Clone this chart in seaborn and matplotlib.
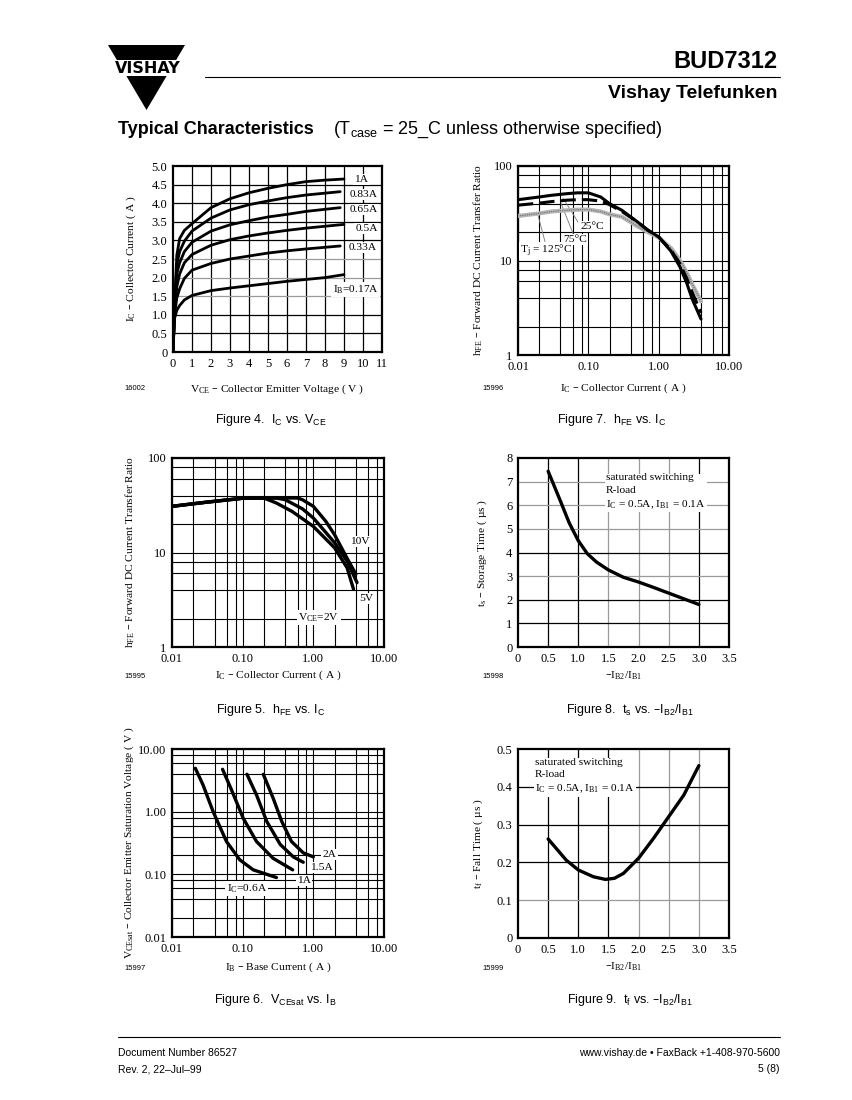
import matplotlib
matplotlib.use("Agg")
import matplotlib.pyplot as plt
import pandas as pd
import seaborn as sns
from matplotlib.ticker import FixedLocator, LogLocator, NullFormatter
from matplotlib.patches import Polygon, Rectangle
from matplotlib.lines import Line2D

# ---- Figure 4: IC vs VCE, one curve per base current
ib_labels = ["1A", "0.83A", "0.65A", "0.5A", "0.33A", "IB=0.17A"]
vce_1a = [0, 0.08, 0.2, 0.35, 0.6, 1, 2, 3, 4, 5, 6, 7, 8, 9]
ic_1a = [0, 1.2, 2.6, 3.05, 3.27, 3.45, 3.88, 4.12, 4.28, 4.4, 4.5, 4.58, 4.62, 4.65]
vce_083 = [0, 0.08, 0.2, 0.35, 0.6, 1, 2, 3, 4, 5, 6, 7, 8.8]
ic_083 = [0, 1.2, 2.35, 2.7, 2.98, 3.25, 3.6, 3.82, 3.96, 4.06, 4.15, 4.22, 4.31]
vce_065 = [0, 0.08, 0.2, 0.35, 0.6, 1, 2, 3, 4, 5, 6, 7, 8.8]
ic_065 = [0, 1.15, 2.1, 2.4, 2.7, 2.95, 3.25, 3.42, 3.53, 3.63, 3.7, 3.78, 3.88]
vce_05 = [0, 0.08, 0.2, 0.35, 0.6, 1, 2, 3, 4, 5, 6, 7, 9]
ic_05 = [0, 1.1, 1.75, 2.1, 2.4, 2.62, 2.87, 3.02, 3.12, 3.2, 3.27, 3.33, 3.43]
vce_033 = [0, 0.08, 0.2, 0.35, 0.6, 1, 2, 3, 4, 5, 6, 7, 8.8]
ic_033 = [0, 1.0, 1.45, 1.7, 1.98, 2.2, 2.38, 2.5, 2.58, 2.66, 2.72, 2.77, 2.85]
vce_017 = [0, 0.08, 0.2, 0.35, 0.6, 1, 2, 3, 4, 5, 6, 7, 8, 9]
ic_017 = [0, 0.9, 1.12, 1.25, 1.4, 1.52, 1.65, 1.72, 1.78, 1.84, 1.9, 1.95, 2.0, 2.08]

# ---- Figure 7: hFE vs IC at three junction temperatures
ic7 = [0.01, 0.02, 0.03, 0.05, 0.07, 0.1, 0.15, 0.2, 0.3, 0.5, 0.7, 1.0, 1.5, 2.0, 2.5, 3.0, 4.0]
hfe_25 = [44, 47, 49, 51, 52, 52, 47, 40, 34, 25.6, 21, 17.8, 12.5, 8.6, 5.8, 3.9, 2.4]
hfe_75 = [38.5, 40.5, 42, 43.5, 44, 44, 42.5, 39, 33, 25.6, 21, 17.8, 12.8, 9.3, 6.5, 4.6, 2.8]
hfe_125 = [29.6, 31.5, 33, 34, 34.5, 34.6, 33, 30.8, 29, 23, 20, 17.5, 13.5, 10.1, 7.5, 5.6, 3.7]

# ---- Figure 5: hFE vs IC at three VCE
ic5_2v = [0.01, 0.03, 0.1, 0.2, 0.3, 0.5, 1.0, 2.0, 3.0, 3.7]
hfe5_2v = [30.8, 34, 37.5, 37.7, 33.4, 27.2, 18.9, 11.2, 6.9, 4.1]
ic5_5v = [0.01, 0.03, 0.1, 0.2, 0.3, 0.4, 0.7, 1.0, 2.0, 3.0, 4.15]
hfe5_5v = [30.8, 34, 37.5, 37.7, 37.7, 36.2, 29, 23.2, 12.7, 8.1, 4.8]
ic5_10v = [0.01, 0.03, 0.1, 0.2, 0.3, 0.6, 0.7, 1.0, 1.5, 2.0, 3.0, 4.0]
hfe5_10v = [30.8, 34, 37.5, 37.7, 37.8, 37.7, 36.2, 30.8, 21.4, 15.4, 8.7, 5.9]

# ---- Figure 6: VCEsat vs IB at four collector currents
ib6_06 = [0.0214, 0.0275, 0.0382, 0.059, 0.0912, 0.141, 0.30]
vce6_06 = [4.92, 2.67, 1.0, 0.334, 0.17, 0.118, 0.089]
ib6_1 = [0.0519, 0.0696, 0.1018, 0.157, 0.27, 0.51]
vce6_1 = [4.74, 2.22, 0.786, 0.334, 0.18, 0.118]
ib6_15 = [0.115, 0.157, 0.219, 0.34, 0.52, 0.72]
vce6_15 = [3.95, 1.85, 0.70, 0.30, 0.19, 0.156]
ib6_2 = [0.196, 0.27, 0.357, 0.49, 0.72, 1.0]
vce6_2 = [3.95, 1.64, 0.70, 0.335, 0.22, 0.19]

# ---- Figure 8: storage time, Figure 9: fall time
ratio8 = [0.5, 0.7, 0.85, 1.0, 1.15, 1.3, 1.5, 1.75, 2.0, 2.25, 2.5, 2.75, 3.0]
ts8 = [7.44, 6.2, 5.25, 4.5, 3.95, 3.6, 3.26, 2.95, 2.75, 2.52, 2.28, 2.04, 1.8]
ratio9 = [0.5, 0.8, 1.0, 1.25, 1.45, 1.6, 1.75, 2.0, 2.25, 2.5, 2.75, 3.0]
tf9 = [0.262, 0.206, 0.18, 0.162, 0.155, 0.158, 0.171, 0.211, 0.264, 0.321, 0.378, 0.456]

W, H = 853, 1100
SERIF = ["Liberation Serif", "DejaVu Serif"]
SANS = ["Liberation Sans", "DejaVu Sans"]

sns.set_theme(style="white")
plt.rcParams["font.family"] = SERIF
plt.rcParams["axes.linewidth"] = 1.6
plt.rcParams["axes.edgecolor"] = "black"

fig = plt.figure(figsize=(W / 100, H / 100), dpi=100)
fig.patch.set_facecolor("white")


def fx(x):
    return x / W


def fy(y):
    return 1 - y / H


def px_axes(left, top, right, bottom):
    ax = fig.add_axes([fx(left), fy(bottom), (right - left) / W, (bottom - top) / H])
    ax.set_facecolor("white")
    ax.tick_params(length=0, pad=4, labelsize=9, colors="black")
    for s in ax.spines.values():
        s.set_color("black")
        s.set_linewidth(1.6)
    return ax


def labels(ax, box, xlabel, ylabel, xlab_y, ylab_x):
    left, top, right, bottom = box
    ax.set_xlabel(xlabel, fontsize=8.2, color="black")
    ax.xaxis.set_label_coords(0.5, (bottom - xlab_y) / (bottom - top))
    ax.xaxis.label.set_va("center")
    ax.set_ylabel(ylabel, fontsize=8.2, color="black")
    ax.yaxis.set_label_coords((ylab_x - left) / (right - left), 0.5)
    ax.yaxis.label.set_va("center")


def lin_grid(ax, xs, ys, gray_x=(), gray_y=()):
    for v in xs:
        ax.axvline(v, color="#9a9a9a" if v in gray_x else "black", lw=0.9, zorder=1)
    for v in ys:
        ax.axhline(v, color="#9a9a9a" if v in gray_y else "black", lw=0.9, zorder=1)


def log_axis(ax, which, lo, hi, labs):
    axis = ax.xaxis if which == "x" else ax.yaxis
    if which == "x":
        ax.set_xscale("log")
        ax.set_xlim(lo, hi)
    else:
        ax.set_yscale("log")
        ax.set_ylim(lo, hi)
    axis.set_major_locator(FixedLocator([lo * 10 ** i for i in range(len(labs))]))
    axis.set_ticklabels(labs)
    axis.set_minor_locator(LogLocator(base=10, subs=[2, 4, 6, 8]))
    axis.set_minor_formatter(NullFormatter())


def note(ax, x, y, s, **kw):
    ax.text(x, y, s, fontsize=8.2, color="black", zorder=3,
            bbox=dict(fc="white", ec="none", pad=0.8), **kw)


def curve(ax, x, y, **kw):
    kw.setdefault("color", "black")
    kw.setdefault("lw", 2.0)
    sns.lineplot(x=x, y=y, ax=ax, sort=False, estimator=None, legend=False, zorder=4, **kw)


# ---------------- header ----------------
fig.add_artist(Polygon([[fx(108), fy(45)], [fx(185), fy(45)], [fx(146.5), fy(110)]],
                       closed=True, transform=fig.transFigure, fc="black", ec="none"))
fig.add_artist(Rectangle((fx(100), fy(76)), 95 / W, 16 / H, transform=fig.transFigure,
                         fc="white", ec="none"))
fig.text(fx(147.5), fy(68.5), "VISHAY", family=["DejaVu Sans"], weight="bold",
         fontsize=11.5, ha="center", va="center", color="black")
fig.add_artist(Line2D([fx(205), fx(780)], [fy(77), fy(77)], transform=fig.transFigure,
                      color="black", lw=0.8))
fig.text(fx(778), fy(62), "BUD7312", family=["Liberation Sans Narrow", "Liberation Sans"],
         weight="bold", fontsize=17, ha="right", va="center", color="black")
fig.text(fx(778), fy(94), "Vishay Telefunken", family=SANS, weight="bold",
         fontsize=14, ha="right", va="center", color="black")
fig.text(fx(118), fy(130), "Typical Characteristics", family=SANS, weight="bold",
         fontsize=13, ha="left", va="center", color="black")
fig.text(fx(333), fy(130), r"(T$_\mathregular{case}$ = 25_C unless otherwise specified)",
         family=SANS, fontsize=13, ha="left", va="center", color="black")

# ---------------- footer ----------------
fig.add_artist(Line2D([fx(118), fx(780)], [fy(1037), fy(1037)], transform=fig.transFigure,
                      color="black", lw=0.8))
for txt, x, y, ha in [("Document Number 86527", 118, 1053, "left"),
                      ("Rev. 2, 22–Jul–99", 118, 1069, "left"),
                      ("www.vishay.de • FaxBack +1-408-970-5600", 780, 1053, "right"),
                      ("5 (8)", 780, 1069, "right")]:
    fig.text(fx(x), fy(y), txt, family=SANS, fontsize=7.5, ha=ha, va="center", color="black")

# ---------------- captions and ids ----------------
captions = [
    (271, 420, r"Figure 4.  I$_\mathregular{C}$ vs. V$_\mathregular{CE}$"),
    (612, 420, r"Figure 7.  h$_\mathregular{FE}$ vs. I$_\mathregular{C}$"),
    (271, 710, r"Figure 5.  h$_\mathregular{FE}$ vs. I$_\mathregular{C}$"),
    (630, 710, r"Figure 8.  t$_\mathregular{s}$ vs. –I$_\mathregular{B2}$/I$_\mathregular{B1}$"),
    (275, 1000, r"Figure 6.  V$_\mathregular{CEsat}$ vs. I$_\mathregular{B}$"),
    (630, 1000, r"Figure 9.  t$_\mathregular{f}$ vs. –I$_\mathregular{B2}$/I$_\mathregular{B1}$"),
]
for x, y, s in captions:
    fig.text(fx(x), fy(y), s, family=SANS, fontsize=9, ha="center", va="center", color="black")
for x, y, s in [(124, 389, "16002"), (482, 389, "15996"), (124, 677, "15995"),
                (482, 677, "15998"), (124, 968, "15997"), (482, 968, "15999")]:
    fig.text(fx(x), fy(y), s, family=SANS, fontsize=5.5, ha="left", va="center", color="black")

# ---------------- Figure 4 ----------------
box4 = (173, 166, 382, 352)
ax4 = px_axes(*box4)
df4 = pd.concat([
    pd.DataFrame({"vce": v, "ic": i, "ib": lab})
    for v, i, lab in zip([vce_1a, vce_083, vce_065, vce_05, vce_033, vce_017],
                         [ic_1a, ic_083, ic_065, ic_05, ic_033, ic_017], ib_labels)
])
sns.lineplot(data=df4, x="vce", y="ic", hue="ib", units="ib", estimator=None, sort=False,
             palette=["black"] * 6, lw=2.0, legend=False, ax=ax4, zorder=4)
ax4.set_xlim(0, 11)
ax4.set_ylim(0, 5)
ax4.set_xticks(range(0, 12))
ax4.set_yticks([i * 0.5 for i in range(11)])
ax4.set_yticklabels(["0"] + [f"{i * 0.5:.1f}" for i in range(1, 11)])
lin_grid(ax4, range(1, 11), [i * 0.5 for i in range(1, 10)], gray_y=(1.5, 2.0, 2.5))
for lab, x, y in zip(ib_labels, [9.55, 9.3, 9.3, 9.6, 9.25, 8.4], [4.64, 4.24, 3.83, 3.32, 2.8, 1.67]):
    s = r"I$_\mathregular{B}$=0.17A" if lab.startswith("IB") else lab
    note(ax4, x, y, s, va="center", ha="left")
labels(ax4, box4, r"V$_\mathregular{CE}$ – Collector Emitter Voltage ( V )",
       r"I$_\mathregular{C}$ – Collector Current ( A )", 389, 131)

# ---------------- Figure 7 ----------------
box7 = (518, 166, 729, 355)
ax7 = px_axes(*box7)
log_axis(ax7, "x", 0.01, 10, ["0.01", "0.10", "1.00", "10.00"])
log_axis(ax7, "y", 1, 100, ["1", "10", "100"])
ax7.grid(True, which="both", color="black", lw=0.8, zorder=1)
ax7.set_axisbelow(True)
for (tx, ty), (lx, ly) in [((0.0713, 25.5), (0.0437, 45.8)), ((0.0627, 18.1), (0.0409, 40.4)),
                           ((0.0267, 12.0), (0.0192, 30.3))]:
    ax7.plot([tx, lx], [ty, ly], color="#777777", lw=0.6, zorder=2)
curve(ax7, ic7, hfe_125, color="#b5b5b5", lw=3.0)
curve(ax7, ic7, hfe_125, color="#6f6f6f", lw=0.8, linestyle=(0, (1, 1)))
curve(ax7, ic7, hfe_75, linestyle=(0, (5, 2)), lw=2.2)
curve(ax7, ic7, hfe_25, lw=2.2)
note(ax7, 0.0762, 22.9, "25°C", va="center", ha="left")
note(ax7, 0.0437, 16.8, "75°C", va="center", ha="left")
note(ax7, 0.0106, 12.6, r"T$_\mathregular{j}$ = 125°C", va="center", ha="left")
labels(ax7, box7, r"I$_\mathregular{C}$ – Collector Current ( A )",
       r"h$_\mathregular{FE}$ – Forward DC Current Transfer Ratio", 388, 478)

# ---------------- Figure 5 ----------------
box5 = (172, 458, 384, 647)
ax5 = px_axes(*box5)
log_axis(ax5, "x", 0.01, 10, ["0.01", "0.10", "1.00", "10.00"])
log_axis(ax5, "y", 1, 100, ["1", "10", "100"])
ax5.grid(True, which="both", color="black", lw=0.8, zorder=1)
ax5.set_axisbelow(True)
curve(ax5, ic5_2v, hfe5_2v, lw=2.4)
curve(ax5, ic5_5v, hfe5_5v, lw=2.4)
curve(ax5, ic5_10v, hfe5_10v, lw=2.4)
note(ax5, 4.6, 13.1, "10V", va="center", ha="center")
note(ax5, 5.6, 3.25, "5V", va="center", ha="center")
note(ax5, 1.2, 2.03, r"V$_\mathregular{CE}$=2V", va="center", ha="center")
labels(ax5, box5, r"I$_\mathregular{C}$ – Collector Current ( A )",
       r"h$_\mathregular{FE}$ – Forward DC Current Transfer Ratio", 675, 130)

# ---------------- Figure 8 ----------------
box8 = (518, 458, 729, 647)
ax8 = px_axes(*box8)
ax8.set_xlim(0, 3.5)
ax8.set_ylim(0, 8)
ax8.set_xticks([i * 0.5 for i in range(8)])
ax8.set_xticklabels(["0"] + [f"{i * 0.5:.1f}" for i in range(1, 8)])
ax8.set_yticks(range(9))
lin_grid(ax8, [i * 0.5 for i in range(1, 7)], range(1, 8),
         gray_x=(1.5, 2.0, 2.5), gray_y=(3, 5, 6, 7))
curve(ax8, ratio8, ts8, lw=2.4)
note(ax8, 1.46, 7.35, "saturated switching\nR-load\n"
     r"I$_\mathregular{C}$ = 0.5A, I$_\mathregular{B1}$ = 0.1A",
     va="top", ha="left", linespacing=1.45)
labels(ax8, box8, r"–I$_\mathregular{B2}$/I$_\mathregular{B1}$",
       r"t$_\mathregular{s}$ – Storage Time ( µs )", 676, 482)

# ---------------- Figure 6 ----------------
box6 = (172, 749, 384, 937)
ax6 = px_axes(*box6)
log_axis(ax6, "x", 0.01, 10, ["0.01", "0.10", "1.00", "10.00"])
log_axis(ax6, "y", 0.01, 10, ["0.01", "0.10", "1.00", "10.00"])
ax6.grid(True, which="both", color="black", lw=0.8, zorder=1)
ax6.set_axisbelow(True)
curve(ax6, ib6_06, vce6_06, lw=2.4)
curve(ax6, ib6_1, vce6_1, lw=2.4)
curve(ax6, ib6_15, vce6_15, lw=2.4)
curve(ax6, ib6_2, vce6_2, lw=2.4)
note(ax6, 1.69, 0.205, "2A", va="center", ha="center")
note(ax6, 1.32, 0.129, "1.5A", va="center", ha="center")
note(ax6, 0.74, 0.079, "1A", va="center", ha="center")
note(ax6, 0.114, 0.06, r"I$_\mathregular{C}$=0.6A", va="center", ha="center")
labels(ax6, box6, r"I$_\mathregular{B}$ – Base Current ( A )",
       r"V$_\mathregular{CEsat}$ – Collector Emitter Saturation Voltage ( V )", 967, 129)

# ---------------- Figure 9 ----------------
box9 = (518, 749, 729, 938)
ax9 = px_axes(*box9)
ax9.set_xlim(0, 3.5)
ax9.set_ylim(0, 0.5)
ax9.set_xticks([i * 0.5 for i in range(8)])
ax9.set_xticklabels(["0"] + [f"{i * 0.5:.1f}" for i in range(1, 8)])
ax9.set_yticks([i * 0.1 for i in range(6)])
ax9.set_yticklabels(["0"] + [f"{i * 0.1:.1f}" for i in range(1, 6)])
lin_grid(ax9, [i * 0.5 for i in range(1, 7)], [0.1, 0.2, 0.3, 0.4],
         gray_x=(2.0, 2.5, 3.0), gray_y=(0.1,))
curve(ax9, ratio9, tf9, lw=2.4)
note(ax9, 0.28, 0.477, "saturated switching\nR-load\n"
     r"I$_\mathregular{C}$ = 0.5A, I$_\mathregular{B1}$ = 0.1A",
     va="top", ha="left", linespacing=1.45)
labels(ax9, box9, r"–I$_\mathregular{B2}$/I$_\mathregular{B1}$",
       r"t$_\mathregular{f}$ – Fall Time ( µs )", 967, 478)

fig.savefig("out.png", dpi=100, facecolor="white")
